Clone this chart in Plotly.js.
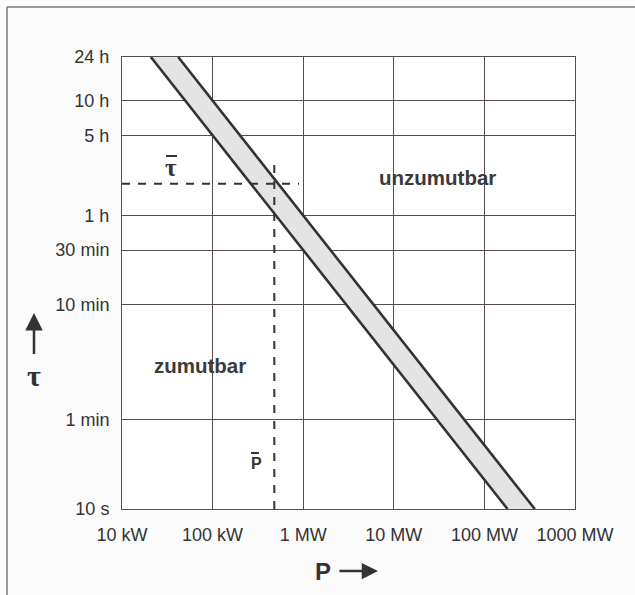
<!DOCTYPE html>
<html>
<head>
<meta charset="utf-8">
<script src="https://cdn.plot.ly/plotly-3.0.1.min.js"></script>
<style>html,body{margin:0;padding:0;background:#fbfbfb;}</style>
</head>
<body>
<div id="chart" style="width:635px;height:595px;"></div>
<script>
// Axis ticks
const powerTickVals = [1e4, 1e5, 1e6, 1e7, 1e8, 1e9];
const powerTickText = ['10 kW', '100 kW', '1 MW', '10 MW', '100 MW', '1000 MW'];
const tauTickVals = [10, 60, 600, 1800, 3600, 18000, 36000, 86400];
const tauTickText = ['10 s', '1 min', '10 min', '30 min', '1 h', '5 h', '10 h', '24 h'];

// Band edges (tau in seconds, P in watts)
const bandTau = [86400, 10];
const lowerP = [20.8e3, 180e6];   // P*tau = 0.5 MWh
const upperP = [41.7e3, 360e6];   // P*tau = 1 MWh

// Reference point (P-bar, tau-bar)
const pBarX = [4.8e5, 4.8e5];
const pBarY = [10, 10800];
const tauBarX = [1e4, 9e5];
const tauBarY = [6800, 6800];

const lineCol = '#333333';
const gridCol = '#574f4f';

const traces = [
  {
    x: lowerP.concat(upperP.slice().reverse()),
    y: bandTau.concat(bandTau.slice().reverse()),
    mode: 'lines', fill: 'toself', fillcolor: '#e4e4e4',
    line: {width: 0}, hoverinfo: 'skip'
  },
  {x: lowerP, y: bandTau, mode: 'lines', line: {color: lineCol, width: 2.6}},
  {x: upperP, y: bandTau, mode: 'lines', line: {color: lineCol, width: 2.6}},
  {x: pBarX, y: pBarY, mode: 'lines', line: {color: lineCol, width: 2, dash: '8px,8px'}},
  {x: tauBarX, y: tauBarY, mode: 'lines', line: {color: lineCol, width: 2, dash: '8px,8px'}}
];

const txt = '#333333';
const P = (px) => (px - 122) / 453;
const Q = (py) => (509 - py) / 452;

const layout = {
  width: 635, height: 595,
  margin: {l: 122, r: 60, t: 57, b: 86},
  paper_bgcolor: '#fbfbfb',
  plot_bgcolor: '#ffffff',
  showlegend: false,
  font: {family: 'Liberation Sans, Arial, sans-serif', size: 18, color: txt},
  xaxis: {
    type: 'log', range: [4, 9],
    tickvals: powerTickVals, ticktext: powerTickText,
    showgrid: true, gridcolor: gridCol, gridwidth: 1,
    showline: true, linecolor: gridCol, linewidth: 1, mirror: true,
    ticks: '', ticklabelstandoff: 9, zeroline: false,
    tickfont: {size: 18, color: txt}
  },
  yaxis: {
    type: 'log', range: [1, Math.log10(86400)],
    tickvals: tauTickVals, ticktext: tauTickText,
    showgrid: true, gridcolor: gridCol, gridwidth: 1,
    showline: true, linecolor: gridCol, linewidth: 1, mirror: true,
    ticks: '', ticklabelstandoff: 8, zeroline: false,
    tickfont: {size: 18, color: txt}
  },
  shapes: [
    {type: 'line', xref: 'paper', yref: 'paper', x0: P(7), x1: 1.2, y0: Q(7), y1: Q(7),
     line: {color: '#7a7a7a', width: 1.5}},
    {type: 'line', xref: 'paper', yref: 'paper', x0: P(7), x1: P(7), y0: Q(7), y1: -0.3,
     line: {color: '#7a7a7a', width: 1.5}},
    // overbars
    {type: 'line', xref: 'paper', yref: 'paper', x0: P(166), x1: P(177), y0: Q(156), y1: Q(156),
     line: {color: '#333', width: 2}},
    {type: 'line', xref: 'paper', yref: 'paper', x0: P(251), x1: P(259), y0: Q(453), y1: Q(453),
     line: {color: '#333', width: 2}}
  ],
  annotations: [
    {xref: 'paper', yref: 'paper', x: P(437), y: Q(177), xanchor: 'center', yanchor: 'middle',
     text: '<b>unzumutbar</b>', showarrow: false, font: {size: 20.5, color: '#3a3a3a'}},
    {xref: 'paper', yref: 'paper', x: P(200), y: Q(365), xanchor: 'center', yanchor: 'middle',
     text: '<b>zumutbar</b>', showarrow: false, font: {size: 20.5, color: '#3a3a3a'}},
    {xref: 'paper', yref: 'paper', x: P(171), y: Q(167), xanchor: 'center', yanchor: 'middle',
     text: '<b>τ</b>', showarrow: false,
     font: {family: 'Liberation Serif, DejaVu Serif, serif', size: 25, color: '#333'}},
    {xref: 'paper', yref: 'paper', x: P(256), y: Q(463), xanchor: 'center', yanchor: 'middle',
     text: '<b>P</b>', showarrow: false, font: {size: 16, color: '#333'}},
    {xref: 'paper', yref: 'paper', x: P(34), y: Q(313), ax: 0, ay: 62,
     text: '<b>τ</b>', showarrow: true, arrowhead: 2, arrowsize: 1.4, arrowwidth: 2.5, arrowcolor: '#333',
     startstandoff: 3,
     font: {family: 'Liberation Serif, DejaVu Serif, serif', size: 30, color: '#333'}},
    {xref: 'paper', yref: 'paper', x: P(378), y: Q(571), ax: -55, ay: 0,
     text: '<b>P</b>', showarrow: true, arrowhead: 2, arrowsize: 1.3, arrowwidth: 2.5, arrowcolor: '#333',
     startstandoff: 7, font: {size: 24, color: '#333'}}
  ]
};

Plotly.newPlot('chart', traces, layout, {displayModeBar: false, staticPlot: true});
</script>
</body>
</html>
